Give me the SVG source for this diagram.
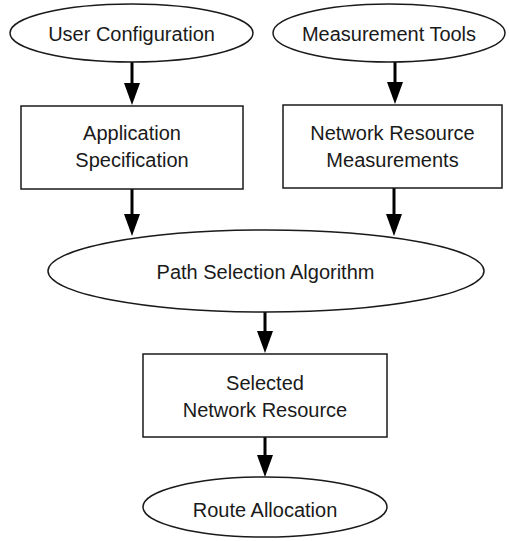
<svg xmlns="http://www.w3.org/2000/svg" width="509" height="541" viewBox="0 0 509 541">
<style>
.shape{fill:#fff;stroke:#1a1a1a;stroke-width:1.5}
.lbl{font-family:"Liberation Sans",Arial,sans-serif;font-size:20px;fill:#1a1a1a;text-anchor:middle}
.conn{stroke:#000;stroke-width:3;fill:none;marker-end:url(#arr)}
</style>
<defs>
<marker id="arr" markerUnits="userSpaceOnUse" viewBox="0 -8 22 16" refX="12" refY="0" markerWidth="22" markerHeight="16" orient="auto">
<path d="M0,-8 L22,0 L0,8 z" fill="#000"/>
</marker>
</defs>
<rect width="509" height="541" fill="#fff"/>
<g id="connectors">
<line class="conn" x1="132" y1="62" x2="132" y2="95"/>
<line class="conn" x1="395" y1="62" x2="395" y2="94"/>
<line class="conn" x1="132" y1="189" x2="132" y2="226"/>
<line class="conn" x1="394" y1="188" x2="394" y2="226"/>
<line class="conn" x1="265" y1="312" x2="265" y2="343"/>
<line class="conn" x1="265" y1="437" x2="265" y2="467"/>
</g>
<g id="user-configuration">
<ellipse class="shape" cx="131.5" cy="33" rx="121.5" ry="29"/>
<text class="lbl" x="131.5" y="41">User Configuration</text>
</g>
<g id="measurement-tools">
<ellipse class="shape" cx="389" cy="33" rx="116" ry="29"/>
<text class="lbl" x="389" y="41">Measurement Tools</text>
</g>
<g id="application-specification">
<rect class="shape" x="21" y="106" width="222" height="83"/>
<text class="lbl" x="132" y="140">Application</text>
<text class="lbl" x="132" y="167">Specification</text>
</g>
<g id="network-resource-measurements">
<rect class="shape" x="283" y="105" width="219" height="83"/>
<text class="lbl" x="392.5" y="140">Network Resource</text>
<text class="lbl" x="392.5" y="167">Measurements</text>
</g>
<g id="path-selection-algorithm">
<ellipse class="shape" cx="266" cy="271" rx="218" ry="41"/>
<text class="lbl" x="265.5" y="279">Path Selection Algorithm</text>
</g>
<g id="selected-network-resource">
<rect class="shape" x="143" y="354" width="244" height="83"/>
<text class="lbl" x="265" y="390">Selected</text>
<text class="lbl" x="265" y="417">Network Resource</text>
</g>
<g id="route-allocation">
<ellipse class="shape" cx="265" cy="507" rx="122" ry="30"/>
<text class="lbl" x="265" y="517">Route Allocation</text>
</g>
</svg>
